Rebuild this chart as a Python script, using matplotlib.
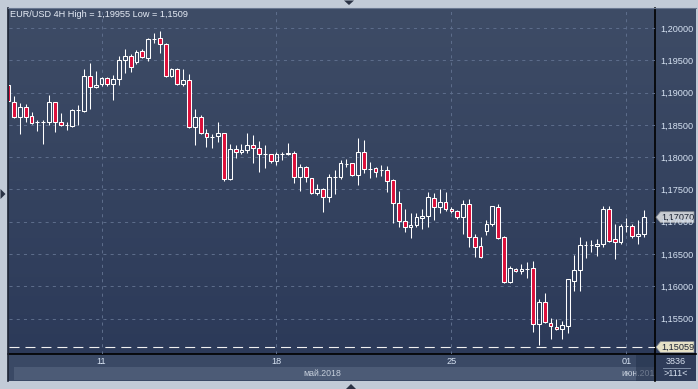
import matplotlib
matplotlib.use('Agg')
import matplotlib.pyplot as plt
import numpy as np
from matplotlib.patches import Rectangle, Polygon

plt.rcParams['font.family'] = ['Liberation Sans', 'DejaVu Sans']
plt.rcParams['lines.scale_dashes'] = False

# ---------------- data (EUR/USD 4H) ----------------
opens = [1.19117, 1.18854, 1.18622, 1.18777, 1.18637, 1.18544, 1.18544, 1.18544, 1.18854, 1.18544,
         1.18498, 1.18483, 1.18730, 1.18715, 1.19256, 1.19086, 1.19133, 1.19226, 1.19133, 1.19210,
         1.19504, 1.19566, 1.19473, 1.19644, 1.19535, 1.19829, 1.19845, 1.19752, 1.19256, 1.19365,
         1.19133, 1.19195, 1.18467, 1.18622, 1.18374, 1.18312, 1.18328, 1.18374, 1.17662, 1.18127,
         1.18080, 1.18111, 1.18188, 1.18142, 1.18049, 1.18049, 1.17941, 1.18049, 1.18055, 1.18060,
         1.17693, 1.17848, 1.17678, 1.17445, 1.17507, 1.17383, 1.17693, 1.17693, 1.17894, 1.17910,
         1.17724, 1.18080, 1.17817, 1.17832, 1.17801, 1.17801, 1.17647, 1.17291, 1.17012, 1.16919,
         1.16950, 1.17058, 1.17089, 1.17368, 1.17229, 1.17306, 1.17198, 1.17167, 1.17074, 1.17275,
         1.16764, 1.16625, 1.16857, 1.16966, 1.17229, 1.16764, 1.16068, 1.16269, 1.16238, 1.16269,
         1.16284, 1.15418, 1.15758, 1.15433, 1.15371, 1.15340, 1.15387, 1.16083, 1.16253, 1.16640,
         1.16645, 1.16625, 1.16656, 1.17198, 1.16733, 1.16687, 1.16935, 1.16940, 1.16780, 1.16811]
highs = [1.19133, 1.18947, 1.18839, 1.18823, 1.18699, 1.18575, 1.18575, 1.18962, 1.18854, 1.18684,
         1.18544, 1.18746, 1.18808, 1.19365, 1.19458, 1.19334, 1.19241, 1.19241, 1.19272, 1.19566,
         1.19675, 1.19597, 1.19659, 1.19675, 1.19845, 1.19922, 1.19955, 1.19767, 1.19380, 1.19380,
         1.19365, 1.19287, 1.18746, 1.18653, 1.18436, 1.18359, 1.18544, 1.18380, 1.18204, 1.18188,
         1.18204, 1.18374, 1.18343, 1.18250, 1.18188, 1.18055, 1.18080, 1.18080, 1.18219, 1.18096,
         1.17894, 1.17863, 1.17685, 1.17585, 1.17523, 1.17740, 1.17801, 1.17956, 1.17972, 1.17915,
         1.18297, 1.18266, 1.17925, 1.17848, 1.17879, 1.17863, 1.17662, 1.17476, 1.17198, 1.17136,
         1.17136, 1.17198, 1.17461, 1.17445, 1.17507, 1.17461, 1.17229, 1.17182, 1.17337, 1.17352,
         1.16811, 1.16764, 1.17027, 1.17250, 1.17275, 1.16780, 1.16315, 1.16284, 1.16346, 1.16377,
         1.16393, 1.15805, 1.15897, 1.15510, 1.15495, 1.15464, 1.16120, 1.16486, 1.16764, 1.16702,
         1.16718, 1.16733, 1.17244, 1.17244, 1.16966, 1.16966, 1.17058, 1.16966, 1.17027, 1.17182]
lows = [1.18854, 1.18606, 1.18359, 1.18544, 1.18514, 1.18405, 1.18204, 1.18498, 1.18390, 1.18483,
        1.18421, 1.18467, 1.18498, 1.18699, 1.18746, 1.19071, 1.19102, 1.19102, 1.18885, 1.19117,
        1.19303, 1.19318, 1.19442, 1.19535, 1.19489, 1.19767, 1.19613, 1.19241, 1.19241, 1.19117,
        1.19102, 1.18452, 1.18188, 1.18359, 1.18157, 1.18142, 1.18235, 1.17631, 1.17647, 1.17987,
        1.18049, 1.18065, 1.17910, 1.17770, 1.17832, 1.17910, 1.17879, 1.17956, 1.18034, 1.17600,
        1.17476, 1.17616, 1.17430, 1.17414, 1.17151, 1.17306, 1.17430, 1.17662, 1.17848, 1.17709,
        1.17569, 1.17755, 1.17678, 1.17693, 1.17709, 1.17461, 1.16981, 1.16919, 1.16842, 1.16749,
        1.16919, 1.16888, 1.16919, 1.17027, 1.17136, 1.17167, 1.17136, 1.17043, 1.16811, 1.16609,
        1.16455, 1.16439, 1.16795, 1.16935, 1.16733, 1.16052, 1.16052, 1.16222, 1.16192, 1.16130,
        1.15294, 1.15090, 1.15433, 1.15185, 1.15325, 1.15185, 1.15278, 1.15928, 1.15928, 1.16439,
        1.16532, 1.16470, 1.16609, 1.16687, 1.16424, 1.16656, 1.16842, 1.16749, 1.16656, 1.16764]
closes = [1.18870, 1.18622, 1.18777, 1.18622, 1.18529, 1.18544, 1.18550, 1.18854, 1.18544, 1.18498,
          1.18505, 1.18730, 1.18735, 1.19256, 1.19086, 1.19117, 1.19226, 1.19133, 1.19210, 1.19504,
          1.19566, 1.19396, 1.19628, 1.19551, 1.19829, 1.19835, 1.19752, 1.19256, 1.19365, 1.19133,
          1.19195, 1.18467, 1.18622, 1.18374, 1.18312, 1.18318, 1.18374, 1.17662, 1.18127, 1.18080,
          1.18111, 1.18188, 1.18142, 1.18049, 1.18055, 1.17941, 1.18049, 1.18055, 1.18060, 1.17693,
          1.17848, 1.17693, 1.17445, 1.17507, 1.17383, 1.17693, 1.17698, 1.17910, 1.17899, 1.17724,
          1.18080, 1.17817, 1.17822, 1.17770, 1.17806, 1.17631, 1.17291, 1.17012, 1.16919, 1.16950,
          1.17074, 1.17089, 1.17383, 1.17229, 1.17306, 1.17198, 1.17167, 1.17074, 1.17275, 1.16764,
          1.16609, 1.16455, 1.16966, 1.17244, 1.16749, 1.16068, 1.16284, 1.16238, 1.16269, 1.16274,
          1.15418, 1.15758, 1.15448, 1.15387, 1.15340, 1.15402, 1.16114, 1.16253, 1.16640, 1.16645,
          1.16640, 1.16656, 1.17198, 1.16702, 1.16687, 1.16935, 1.16940, 1.16780, 1.16811, 1.17070]

date_tick_pos = [16, 46, 76, 106]
date_tick_labels = ['11', '18', '25', '01']
price_ticks = [1.155, 1.160, 1.165, 1.170, 1.175, 1.180, 1.185, 1.190, 1.195, 1.200]
title = 'EUR/USD 4H High = 1,19955 Low = 1,1509'
month_label = 'май.2018'
next_month_label = 'июн.201'
ref_level = 1.15059
last_price = 1.17070
info_top = '3836'
info_bottom = '>111<'

# ---------------- layout ----------------
W, H = 698, 389
fig = plt.figure(figsize=(W / 100, H / 100), dpi=100)
fig.patch.set_facecolor('#c2cbd7')

bg = fig.add_axes([0, 0, 1, 1], zorder=0)
bg.set_xlim(0, W)
bg.set_ylim(H, 0)
bg.axis('off')

# gradient panel (chart + price scale)
top_c = np.array([62, 76, 102]) / 255
bot_c = np.array([44, 58, 89]) / 255
t = np.linspace(0, 1, 256)[:, None]
grad = (top_c[None, :] * (1 - t) + bot_c[None, :] * t)[:, None, :]
bg.imshow(grad, extent=(8, 696, 354, 8), aspect='auto', interpolation='bilinear', zorder=1)

# bottom date strip
bg.add_patch(Rectangle((8, 354), 688, 27, facecolor='#3a4965', edgecolor='none', zorder=1))
bg.add_patch(Rectangle((14, 367), 641, 13, facecolor='#4c5b76', edgecolor='none', zorder=1.1))
bg.text(341, 374, month_label, ha='right', va='center', fontsize=6.3, color='#c5cedb', zorder=2)
bg.text(621, 374, next_month_label, ha='left', va='center', fontsize=6.3, color='#c5cedb', zorder=2)
bg.add_patch(Rectangle((636, 355), 19, 26, facecolor='#24324c', alpha=0.55, edgecolor='none', zorder=2.5))
# info box bottom-right
bg.add_patch(Rectangle((655, 354), 41, 27, facecolor='#2e3c59', edgecolor='none', zorder=3))
bg.text(676, 362, info_top, ha='center', va='center', fontsize=6.5, color='#d8e2f0', zorder=4)
bg.plot([663, 690], [367.5, 367.5], color='#8090a8', lw=0.7, zorder=4)
bg.text(676, 374, info_bottom, ha='center', va='center', fontsize=6.5, color='#d8e2f0', zorder=4)

# frame lines
bg.plot([8, 696], [354, 354], color='black', lw=1.2, zorder=5)
bg.plot([655, 655], [8, 381], color='black', lw=1.2, zorder=5)
bg.plot([8, 8], [8, 381], color='#1c2434', lw=1.2, zorder=5)
bg.plot([8, 696], [7.5, 7.5], color='#6a7890', lw=0.8, zorder=5)

# UI triangles
bg.add_patch(Polygon([[344, 0.5], [354, 0.5], [349, 5]], closed=True, facecolor='#2a3244', edgecolor='none', zorder=6))
bg.add_patch(Polygon([[0.5, 189], [0.5, 199], [5.5, 194]], closed=True, facecolor='#2a3244', edgecolor='none', zorder=6))
bg.add_patch(Polygon([[346, 389], [356, 389], [351, 384]], closed=True, facecolor='#2a3244', edgecolor='none', zorder=6))

# title
bg.text(10, 14.5, title, ha='left', va='center', fontsize=6.6, color='#e6ecf6', zorder=6)

# ---------------- candlestick axes ----------------
ax = fig.add_axes([9 / W, 1 - 354 / H, (655 - 9) / W, (354 - 8) / H], zorder=2)
ax.patch.set_alpha(0)
n = len(opens)
x = np.arange(n)
ax.set_xlim(0.14, 110.9)
ax.set_ylim(1.14953, 1.20309)

ax.set_yticks(price_ticks)
ax.set_yticklabels([f'{p:.5f}'.replace('.', ',') for p in price_ticks])
ax.yaxis.tick_right()
ax.set_xticks(date_tick_pos)
ax.set_xticklabels(date_tick_labels)
ax.tick_params(axis='y', length=0, pad=3.5, labelsize=6.6, labelcolor='#d6e2f2')
ax.tick_params(axis='x', length=0, pad=2.5, labelsize=6.6, labelcolor='#d6e2f2')
for s in ax.spines.values():
    s.set_visible(False)
ax.grid(True, color='#5e6e8c', linestyle=(0, (2.2, 3.0)), linewidth=0.7)
ax.set_axisbelow(True)

red = '#dc0f3a'
white = '#ffffff'
bw = 0.64
lw_px = 0.75
o = np.array(opens); h = np.array(highs); l = np.array(lows); c = np.array(closes)
btop = np.maximum(o, c)
bbot = np.minimum(o, c)
# wicks (upper and lower parts)
ax.vlines(x, btop, h, color=white, lw=lw_px, zorder=3)
ax.vlines(x, l, bbot, color=white, lw=lw_px, zorder=3)
bear = c < o
bull = ~bear
ax.bar(x[bear], (btop - bbot)[bear], bottom=bbot[bear], width=bw, color=red,
       edgecolor=white, linewidth=lw_px, zorder=4)
ax.bar(x[bull], (btop - bbot)[bull], bottom=bbot[bull], width=bw, color='none',
       edgecolor=white, linewidth=lw_px, zorder=4)

# reference dashed level
ax.axhline(ref_level, color='#f0f0f0', lw=0.8, linestyle=(0, (7.2, 4.3)), zorder=3)

# price tags on the scale
def tag(price, face, txt):
    yy = ax.transData.transform((0, price))[1]
    ypx = H - yy
    pts = [[656, ypx], [660.5, ypx - 5.5], [694, ypx - 5.5], [694, ypx + 5.5], [660.5, ypx + 5.5]]
    bg.add_patch(Polygon(pts, closed=True, facecolor=face, edgecolor='#8a8f96', lw=0.5, zorder=7))
    bg.text(677.5, ypx + 0.3, txt, ha='center', va='center', fontsize=6.6, color='#1a2232', zorder=8)

fig.canvas.draw()
tag(last_price, '#c9cdd3', f'{last_price:.5f}'.replace('.', ','))
tag(ref_level, '#e6e2c6', f'{ref_level:.5f}'.replace('.', ','))

fig.savefig('out.png', dpi=100, facecolor=fig.get_facecolor())
